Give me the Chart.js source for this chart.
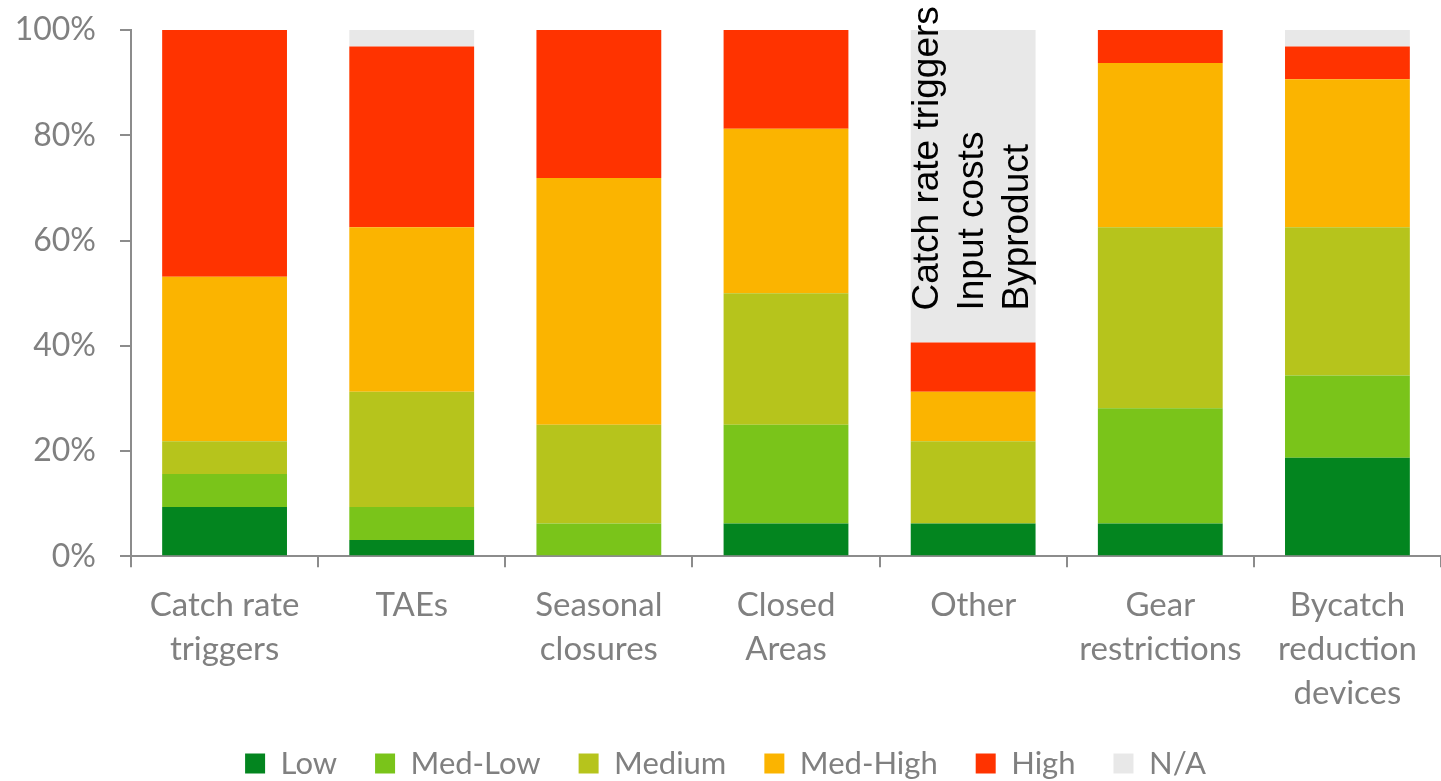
<!DOCTYPE html>
<html>
<head>
<meta charset="utf-8">
<title>Stacked impacts</title>
<script src="https://cdn.jsdelivr.net/npm/chart.js@4"></script>
<style>
  html, body { margin: 0; padding: 0; background: #fff; }
  #wrap { width: 1441px; height: 781px; position: relative; }
</style>
</head>
<body>
<div id="wrap"><canvas id="c"></canvas></div>
<script>
// categorias y valores (% de respuestas por nivel)
const categorias = [
  ["Catch rate", "triggers"], ["TAEs"], ["Seasonal", "closures"], ["Closed", "Areas"],
  ["Other"], ["Gear", "restrictions"], ["Bycatch", "reduction", "devices"]
];
const low     = [9.375, 3.125, 0, 6.25, 6.25, 6.25, 18.75];
const medLow  = [6.25, 6.25, 6.25, 18.75, 0, 21.875, 15.625];
const medium  = [6.25, 21.875, 18.75, 25, 15.625, 34.375, 28.125];
const medHigh = [31.25, 31.25, 46.875, 31.25, 9.375, 31.25, 28.125];
const high    = [46.875, 34.375, 28.125, 18.75, 9.375, 6.25, 6.25];
const na      = [0, 3.125, 0, 0, 59.375, 0, 3.125];
const yTicks  = [0, 20, 40, 60, 80, 100];
const otrosTxt = ["Catch rate triggers", "Input costs", "Byproduct"];

const gris = "#808080";
const ejeColor = "#8c8c8c";
const fuente = "Lato, 'Open Sans', sans-serif";

// texto rotado dentro de la barra "Other"
const notaOther = {
  id: "notaOther",
  afterDatasetsDraw(chart) {
    const { ctx, scales } = chart;
    const x0 = scales.x.getPixelForValue(4);
    const yb = scales.y.getPixelForValue(46.7);
    ctx.save();
    ctx.fillStyle = "#000";
    ctx.font = "37px 'Liberation Sans', Arial, sans-serif";
    ctx.textAlign = "left";
    ctx.textBaseline = "middle";
    otrosTxt.forEach((t, i) => {
      ctx.save();
      ctx.translate(x0 + (i - 1) * 45, yb);
      ctx.rotate(-Math.PI / 2);
      ctx.fillText(t, 0, 0);
      ctx.restore();
    });
    ctx.restore();
  }
};

// leyenda un poco mas baja
const leyendaAjuste = {
  id: "leyendaAjuste",
  beforeInit(chart) {
    const fitOrig = chart.legend.fit;
    chart.legend.fit = function () {
      fitOrig.call(this);
      this.height -= 8;
    };
  }
};

function serie(label, data, color) {
  return { label, data, backgroundColor: color, borderWidth: 0,
    barPercentage: 0.667, categoryPercentage: 1 };
}

new Chart(document.getElementById("c"), {
  type: "bar",
  data: {
    labels: categorias,
    datasets: [
      serie("Low", low, "#03851F"),
      serie("Med-Low", medLow, "#7AC41A"),
      serie("Medium", medium, "#B6C41C"),
      serie("Med-High", medHigh, "#FBB400"),
      serie("High", high, "#FF3300"),
      serie("N/A", na, "#E8E8E8")
    ]
  },
  options: {
    responsive: true, maintainAspectRatio: false, animation: false,
    layout: { padding: { left: 10, right: 0, top: 30, bottom: 0 } },
    plugins: {
      tooltip: { enabled: false },
      legend: {
        position: "bottom",
        labels: { color: gris, boxWidth: 20, boxHeight: 20, padding: 38,
          font: { family: fuente, size: 31 } }
      }
    },
    scales: {
      x: {
        stacked: true,
        afterFit: (s) => { s.height -= 21; },
        grid: { display: true, drawOnChartArea: false, drawTicks: true, tickLength: 11, color: ejeColor, lineWidth: 2 },
        border: { display: true, color: ejeColor, width: 2 },
        ticks: { color: gris, padding: 16, maxRotation: 0, autoSkip: false,
          font: { family: fuente, size: 33, lineHeight: 1.33 } }
      },
      y: {
        stacked: true, min: 0, max: 100,
        afterFit: (s) => { s.width = 121; s.paddingTop = 0; s.paddingBottom = 0; },
        afterBuildTicks: (ax) => { ax.ticks = yTicks.map(v => ({ value: v })); },
        grid: { display: true, drawOnChartArea: false, drawTicks: true, tickLength: 11, color: ejeColor, lineWidth: 2 },
        border: { display: true, color: ejeColor, width: 2 },
        ticks: { color: gris, padding: 24, callback: (v) => v + "%",
          font: { family: fuente, size: 32 } }
      }
    }
  },
  plugins: [notaOther, leyendaAjuste]
});
</script>
</body>
</html>
